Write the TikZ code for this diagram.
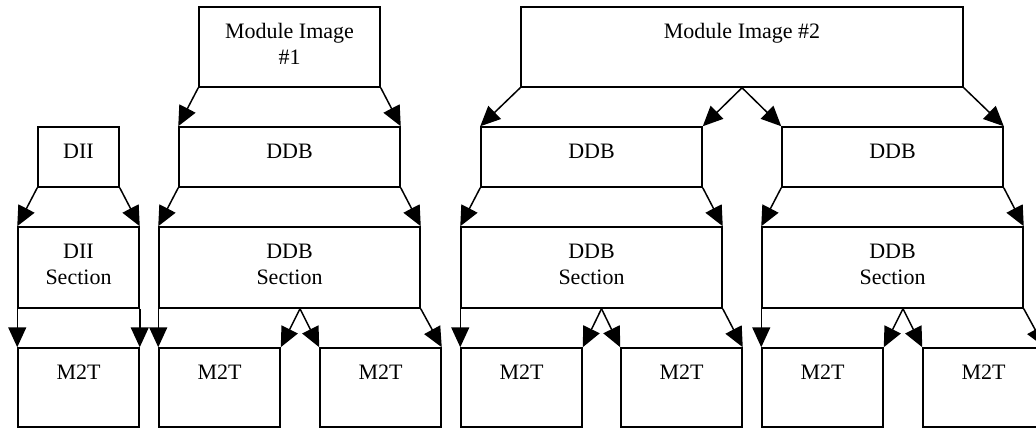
\documentclass[tikz,border=0pt]{standalone}
\usepackage{fontspec}
\setmainfont{Liberation Serif}
\usetikzlibrary{arrows.meta}

\begin{document}
\begin{tikzpicture}[x=0.5pt,y=0.5pt]
				\tikzstyle{every node}+=[inner sep=0pt]
				\tikzstyle{box}=[draw=black, line width=0.75pt, rectangle]
				\tikzstyle{lbl}=[anchor=north, align=center, font=\fontsize{11}{13}\selectfont]
				\tikzstyle{link}=[black, line width=0.75pt, -{Triangle[length=10pt,width=9pt]}]
				\clip (0,0) rectangle (1036,-428);
				\node [box, minimum width=90.5pt, minimum height=40pt] (mi1) at (289.5,-47) {};
				\node [lbl] (mi1t) at ([yshift=-8.5pt]mi1.north) {Module Image\\\#1};
				\node [box, minimum width=221pt, minimum height=40pt] (mi2) at (742,-47) {};
				\node [lbl] (mi2t) at ([yshift=-8.5pt]mi2.north) {Module Image \#2};
				\node [box, minimum width=40.5pt, minimum height=30pt] (dii) at (78.5,-157) {};
				\node [lbl] (diit) at ([yshift=-8.5pt]dii.north) {DII};
				\node [box, minimum width=110.5pt, minimum height=30pt] (ddb1) at (289.5,-157) {};
				\node [lbl] (ddb1t) at ([yshift=-8.5pt]ddb1.north) {DDB};
				\node [box, minimum width=110.5pt, minimum height=30pt] (ddb2) at (591.5,-157) {};
				\node [lbl] (ddb2t) at ([yshift=-8.5pt]ddb2.north) {DDB};
				\node [box, minimum width=110.5pt, minimum height=30pt] (ddb3) at (892.5,-157) {};
				\node [lbl] (ddb3t) at ([yshift=-8.5pt]ddb3.north) {DDB};
				\node [box, minimum width=60.5pt, minimum height=40.5pt] (diisec) at (78.5,-267.5) {};
				\node [lbl] (diisect) at ([yshift=-8.5pt]diisec.north) {DII\\Section};
				\node [box, minimum width=130.5pt, minimum height=40.5pt] (sec1) at (289.5,-267.5) {};
				\node [lbl] (sec1t) at ([yshift=-8.5pt]sec1.north) {DDB\\Section};
				\node [box, minimum width=130.5pt, minimum height=40.5pt] (sec2) at (591.5,-267.5) {};
				\node [lbl] (sec2t) at ([yshift=-8.5pt]sec2.north) {DDB\\Section};
				\node [box, minimum width=130.5pt, minimum height=40.5pt] (sec3) at (892.5,-267.5) {};
				\node [lbl] (sec3t) at ([yshift=-8.5pt]sec3.north) {DDB\\Section};
				\node [box, minimum width=60.5pt, minimum height=39.5pt] (m0) at (78.5,-387.5) {};
				\node [lbl] (m0t) at ([yshift=-8.5pt]m0.north) {M2T};
				\node [box, minimum width=60.5pt, minimum height=39.5pt] (m1) at (219.5,-387.5) {};
				\node [lbl] (m1t) at ([yshift=-8.5pt]m1.north) {M2T};
				\node [box, minimum width=60.5pt, minimum height=39.5pt] (m2) at (380.5,-387.5) {};
				\node [lbl] (m2t) at ([yshift=-8.5pt]m2.north) {M2T};
				\node [box, minimum width=60.5pt, minimum height=39.5pt] (m3) at (521.5,-387.5) {};
				\node [lbl] (m3t) at ([yshift=-8.5pt]m3.north) {M2T};
				\node [box, minimum width=60.5pt, minimum height=39.5pt] (m4) at (681.5,-387.5) {};
				\node [lbl] (m4t) at ([yshift=-8.5pt]m4.north) {M2T};
				\node [box, minimum width=60.5pt, minimum height=39.5pt] (m5) at (822.5,-387.5) {};
				\node [lbl] (m5t) at ([yshift=-8.5pt]m5.north) {M2T};
				\node [box, minimum width=60.5pt, minimum height=39.5pt] (m6) at (983.5,-387.5) {};
				\node [lbl] (m6t) at ([yshift=-8.5pt]m6.north) {M2T};
				\draw [link] (mi1.south west) -- (ddb1.north west);
				\draw [link] (mi1.south east) -- (ddb1.north east);
				\draw [link] (mi2.south west) -- (ddb2.north west);
				\draw [link] (mi2.south) -- (ddb2.north east);
				\draw [link] (mi2.south) -- (ddb3.north west);
				\draw [link] (mi2.south east) -- (ddb3.north east);
				\draw [link] (dii.south west) -- (diisec.north west);
				\draw [link] (dii.south east) -- (diisec.north east);
				\draw [link] (ddb1.south west) -- (sec1.north west);
				\draw [link] (ddb1.south east) -- (sec1.north east);
				\draw [link] (ddb2.south west) -- (sec2.north west);
				\draw [link] (ddb2.south east) -- (sec2.north east);
				\draw [link] (ddb3.south west) -- (sec3.north west);
				\draw [link] (ddb3.south east) -- (sec3.north east);
				\draw [link] (diisec.south west) -- (m0.north west);
				\draw [link] (diisec.south east) -- (m0.north east);
				\draw [link] (sec1.south west) -- (m1.north west);
				\draw [link] ([xshift=5.25pt]sec1.south) -- (m1.north east);
				\draw [link] ([xshift=5.25pt]sec1.south) -- (m2.north west);
				\draw [link] (sec1.south east) -- (m2.north east);
				\draw [link] (sec2.south west) -- (m3.north west);
				\draw [link] ([xshift=5pt]sec2.south) -- (m3.north east);
				\draw [link] ([xshift=5pt]sec2.south) -- (m4.north west);
				\draw [link] (sec2.south east) -- (m4.north east);
				\draw [link] (sec3.south west) -- (m5.north west);
				\draw [link] ([xshift=5.25pt]sec3.south) -- (m5.north east);
				\draw [link] ([xshift=5.25pt]sec3.south) -- (m6.north west);
				\draw [link] (sec3.south east) -- (m6.north east);
				\end{tikzpicture}
\end{document}
